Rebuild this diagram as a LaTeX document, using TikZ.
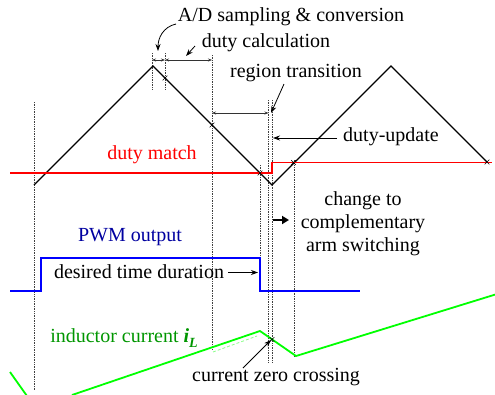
\documentclass[tikz,border=0pt]{standalone}
\usepackage{fontspec}
\setmainfont{Liberation Serif}
\usetikzlibrary{arrows.meta,shapes.misc}
\definecolor{wavered}{RGB}{255,0,0}
\definecolor{pwmblue}{RGB}{0,0,255}
\definecolor{pwmtext}{RGB}{0,0,160}
\definecolor{ilgreen}{RGB}{0,255,0}
\definecolor{iltext}{RGB}{0,150,0}
\begin{document}
\begin{tikzpicture}[x=1pt,y=-1pt,
  lbl/.style={font=\fontsize{20}{23}\selectfont, inner sep=0pt},
  guide/.style={densely dotted, line width=0.7pt, black!75},
  tri/.style={line width=1.3pt, black},
  dutyline/.style={line width=1.6pt, wavered},
  pwmline/.style={line width=1.6pt, pwmblue},
  illine/.style={line width=1.8pt, ilgreen},
  mk/.style={cross out, draw=black, line width=0.6pt, minimum size=4pt, inner sep=0pt},
  dim/.style={line width=0.8pt, black!80, {Stealth[length=4pt,width=3pt]}-{Stealth[length=4pt,width=3pt]}},
  callout/.style={line width=0.8pt, black, -{Stealth[length=7pt,width=5pt]}}]
\useasboundingbox (0,0) rectangle (495,394);
\clip (0,0) rectangle (495,394);

% guide lines
\draw[guide] (34,102) coordinate (g1a) -- (34,390) coordinate (g1b);
\draw[guide] (152,53) coordinate (g2a) -- (152,90) coordinate (g2b);
\draw[guide] (165,53) coordinate (g3a) -- (165,90) coordinate (g3b);
\draw[guide] (212,55) coordinate (g4a) -- (212,350) coordinate (g4b);
\draw[guide] (268.5,100) coordinate (g5a) -- (268.5,362) coordinate (g5b);
\draw[guide] (272,100) coordinate (g6a) -- (272,362) coordinate (g6b);
\draw[guide] (260,165) coordinate (g7a) -- (260,291) coordinate (g7b);
\draw[guide] (294,160) coordinate (g8a) -- (294,356) coordinate (g8b);

% triangle carrier
\coordinate (t0) at (34,185);
\coordinate (p1) at (153,66);
\coordinate (v1) at (272,185);
\coordinate (p2) at (391,66);
\coordinate (t3) at (487,162);
\draw[tri] (t0) -- (p1) -- (v1) -- (p2) -- (t3);

% duty match
\coordinate (r0) at (10,173);
\coordinate (r1) at (272,173);
\coordinate (r2) at (272,162.5);
\coordinate (r3) at (492,162.5);
\draw[dutyline] (r0) -- (r1) -- (r2) -- (r3);

% PWM
\coordinate (b0) at (10,291);
\coordinate (b1) at (41,291);
\coordinate (b2) at (41,258);
\coordinate (b3) at (260,258);
\coordinate (b4) at (260,291);
\coordinate (b5) at (360,291);
\draw[pwmline] (b0) -- (b1) -- (b2) -- (b3) -- (b4) -- (b5);

% inductor current
\coordinate (i0) at (10,372);
\coordinate (i1) at (27,396);
\coordinate (i2) at (72,395);
\coordinate (i3) at (260,331);
\coordinate (i4) at (296,356);
\coordinate (i5) at (497,294);
\draw[illine] (i0) -- (i1);
\draw[illine] (i2) -- (i3) -- (i4) -- (i5);
\draw[ilgreen!45, densely dashed, line width=0.8pt] (213,352) coordinate (d0) -- (257,336) coordinate (d1);

% marks
\node[mk] (m1) at (165,78) {};
\node[mk] (m2) at (212,125) {};
\node[mk] (m3) at (260,173) {};
\node[mk] (m4) at (293.5,162.5) {};
\node[mk] (m5) at (487,162) {};
\node[mk] (m6) at (272,339.5) {};

% dimension arrows
\coordinate (a1) at (152,60);
\coordinate (a2) at (165,60);
\coordinate (a3) at (212,60);
\draw[dim] (a1) -- (a2);
\draw[dim] (a2) -- (a3);
\coordinate (a4) at (212,113);
\coordinate (a5) at (268.5,113);
\draw[dim] (a4) -- (a5);

% labels
\node[lbl] (ad) at (291,17) {A/D sampling \& conversion};
\node[lbl] (dc) at (266,43) {duty calculation};
\node[lbl] (rt) at (296,73) {region transition};
\node[lbl] (du) at (391,137) {duty-update};
\node[lbl, text=wavered] (dm) at (152,155) {duty match};
\node[lbl, align=center] (ch) at (363,224) {change to\\complementary\\arm switching};
\node[lbl, text=pwmtext] (pwm) at (130,237) {PWM output};
\node[lbl] (dt) at (139,272) {desired time duration};
\node[lbl, text=iltext] (il) at (124,338) {inductor current {\bfseries\itshape i\raisebox{-0.22em}{\fontsize{14}{14}\selectfont L}}};
\node[lbl] (zc) at (276,377) {current zero crossing};

% callouts
\coordinate (c1s) at (176,24);
\coordinate (c1e) at (158,51);
\draw[callout] (c1s) .. controls (163,27) and (158,38) .. (c1e);
\coordinate (c2s) at (195,46);
\coordinate (c2e) at (186,56);
\draw[callout] (c2s) -- (c2e);
\coordinate (c3s) at (284,84);
\coordinate (c3e) at (271,113);
\draw[callout] (c3s) -- (c3e);
\coordinate (c4s) at (337,138);
\coordinate (c4e) at (273,138);
\draw[callout] (c4s) -- (c4e);
\coordinate (c5s) at (228,272.5);
\coordinate (c5e) at (258,272.5);
\draw[callout] (c5s) -- (c5e);
\coordinate (c6s) at (243,368);
\coordinate (c6e) at (271,340);
\draw[callout] (c6s) -- (c6e);
\coordinate (c7s) at (273,220);
\coordinate (c7e) at (289,220);
\draw[line width=2.2pt, -{Triangle[length=7pt,width=8pt]}] (c7s) -- (c7e);
\end{tikzpicture}
\end{document}
